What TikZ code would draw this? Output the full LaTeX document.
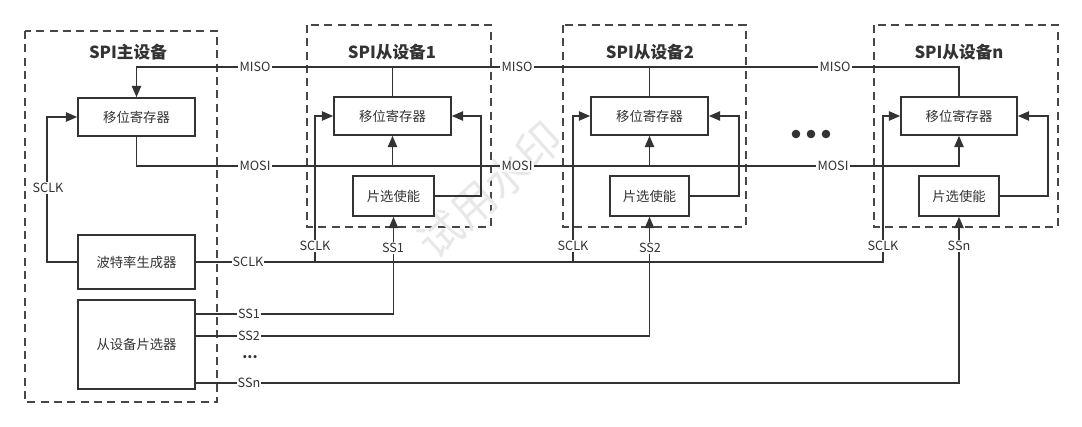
\documentclass[tikz,border=0pt]{standalone}
\usepackage{fontspec}
\setmainfont{Noto Sans CJK SC}
\usetikzlibrary{arrows.meta}
\definecolor{ln}{HTML}{333333}
\definecolor{tx}{HTML}{333333}
\tikzset{
  box/.style={draw=ln, line width=1.2pt, inner sep=0pt, font=\fontsize{10}{12}\selectfont, text=tx},
  grp/.style={draw=ln!90, line width=1.1pt, dash pattern=on 6pt off 4pt},
  ttl/.style={font=\fontsize{12.5}{14}\bfseries\selectfont, text=tx},
  lbl/.style={fill=white, inner sep=0.8pt, font=\fontsize{9.5}{11}\selectfont, text=tx},
  wire/.style={draw=ln, line width=1.2pt},
  arr/.style={wire, -{Triangle[length=8.5pt,width=7pt]}},
}
\begin{document}
\begin{tikzpicture}[x=0.75pt,y=-0.75pt]
\useasboundingbox (0,0) rectangle (1082,427);
% group boxes
\draw[grp] (25,31) rectangle (217,402);
\draw[grp] (307,25) rectangle (491,227);
\draw[grp] (563,25) rectangle (746,227);
\draw[grp] (874,25) rectangle (1058,227);
% watermark
\node[text=black!9, rotate=42, font=\fontsize{33}{35}\selectfont] (wm) at (490,190) {试用水印};
% titles
\node[ttl] (tm) at (128,52) {SPI主设备};
\node[ttl] (t1) at (392,52) {SPI从设备1};
\node[ttl] (t2) at (650,52) {SPI从设备2};
\node[ttl] (tn) at (959,52) {SPI从设备n};
% master boxes
\node[box, minimum width=117*0.75pt, minimum height=38*0.75pt] (msr) at (136.5,117) {移位寄存器};
\node[box, minimum width=117*0.75pt, minimum height=54*0.75pt] (baud) at (136.5,262) {波特率生成器};
\node[box, minimum width=117*0.75pt, minimum height=89*0.75pt] (sel) at (136.5,344.5) {从设备片选器};
% slave boxes
\node[box, minimum width=117*0.75pt, minimum height=38*0.75pt] (s1sr) at (392.5,116) {移位寄存器};
\node[box, minimum width=81*0.75pt, minimum height=40*0.75pt] (s1en) at (393.5,196) {片选使能};
\node[box, minimum width=117*0.75pt, minimum height=38*0.75pt] (s2sr) at (649.5,116) {移位寄存器};
\node[box, minimum width=79*0.75pt, minimum height=40*0.75pt] (s2en) at (649.5,196) {片选使能};
\node[box, minimum width=116*0.75pt, minimum height=38*0.75pt] (snsr) at (959,116) {移位寄存器};
\node[box, minimum width=80*0.75pt, minimum height=40*0.75pt] (snen) at (959,196) {片选使能};
% helper coordinates
\coordinate (misoy) at (0,67);
\coordinate (mosiy) at (0,166);
\coordinate (k1) at (315,262);
\coordinate (k2) at (573,262);
\coordinate (kn) at (883,262);
\coordinate (ss1y) at (0,314);
\coordinate (ss2y) at (0,336);
\coordinate (ssny) at (0,383);
% MISO bus
\draw[arr] (snsr.north) -- (snsr.north |- misoy) -| (msr.north);
\draw[wire] (s1sr.north) -- (s1sr.north |- misoy);
\draw[wire] (s2sr.north) -- (s2sr.north |- misoy);
% MOSI bus
\draw[arr] (msr.south) -- (msr.south |- mosiy) -| (snsr.south);
\draw[arr] (s1sr.south |- mosiy) -- (s1sr.south);
\draw[arr] (s2sr.south |- mosiy) -- (s2sr.south);
% SCLK
\draw[arr] (baud.west) -- ++(-30,0) |- (msr.west);
\draw[arr] (baud.east) -- (kn) |- (snsr.west);
\draw[arr] (k1) |- (s1sr.west);
\draw[arr] (k2) |- (s2sr.west);
% enable loops
\draw[arr] (s1en.east) -- ++(46,0) |- (s1sr.east);
\draw[arr] (s2en.east) -- ++(49,0) |- (s2sr.east);
\draw[arr] (snen.east) -- ++(48,0) |- (snsr.east);
% slave selects
\draw[arr] (sel.east |- ss1y) -| (s1en.south);
\draw[arr] (sel.east |- ss2y) -| (s2en.south);
\draw[arr] (sel.east |- ssny) -| (snen.south);
% labels
\node[lbl] (lm1) at (255,67) {MISO};
\node[lbl] (lm2) at (517,67) {MISO};
\node[lbl] (lm3) at (835,67) {MISO};
\node[lbl] (lo1) at (255,166) {MOSI};
\node[lbl] (lo2) at (517,166) {MOSI};
\node[lbl] (lo3) at (833,166) {MOSI};
\node[lbl] (lk0) at (48,188) {SCLK};
\node[lbl] (lkb) at (248,262) {SCLK};
\node[lbl] (lk1) at (315,246) {SCLK};
\node[lbl] (lk2) at (573,246) {SCLK};
\node[lbl] (lkn) at (883,246) {SCLK};
\node[lbl] (ls1) at (249,314) {SS1};
\node[lbl] (ls2) at (249,336) {SS2};
\node[lbl] (lsn) at (249,383) {SSn};
\node[lbl, font=\fontsize{11}{12}\bfseries\selectfont] (ldots) at (250,357) {...};
\node[lbl] (ls1b) at (393,248) {SS1};
\node[lbl] (ls2b) at (650,248) {SS2};
\node[lbl] (lsnb) at (959,246) {SSn};
% dots
\fill[ln] (796,134) circle (4.3);
\fill[ln] (811,134) circle (4.3);
\fill[ln] (826,134) circle (4.3);
\end{tikzpicture}
\end{document}
